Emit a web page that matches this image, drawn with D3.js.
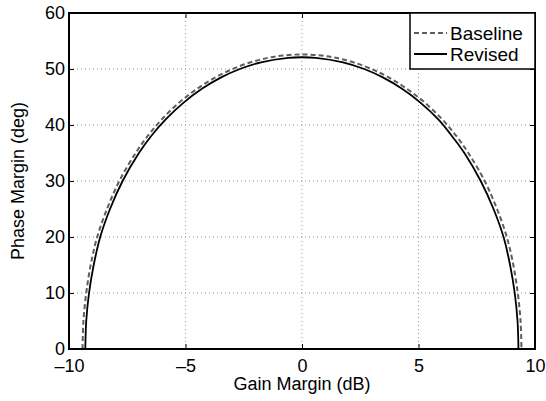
<html>
<meta charset="UTF-8">
<head>
<style>
  body { margin: 0; background: #fff; }
  text { font-family: "Liberation Sans", Arial, sans-serif; }
</style>
</head>
<script src="https://d3js.org/d3.v7.min.js"></script>
<body>
<div id="chart"></div>
<script>
  // gain margin (dB), phase margin (deg)
  var baselineGain  = [-9.42, -9.38, -9.26, -9.07, -8.79, -8.37, -7.84, -7.14, -6.63, -6.02, -5.27, -4.49, -3.72, -2.98, -2.2, -1.45, -0.84, 0,
                        0.84, 1.45, 2.2, 2.98, 3.72, 4.49, 5.27, 6.02, 6.63, 7.14, 7.84, 8.37, 8.79, 9.07, 9.26, 9.38, 9.42];
  var baselinePhase = [0, 5, 10, 15, 20, 25, 30, 35, 38, 41, 44, 46.5, 48.5, 50, 51.2, 52, 52.4, 52.6,
                        52.4, 52, 51.2, 50, 48.5, 46.5, 44, 41, 38, 35, 30, 25, 20, 15, 10, 5, 0];

  var revisedGain  = [-9.3, -9.26, -9.14, -8.94, -8.66, -8.24, -7.7, -7.0, -6.48, -5.85, -5.08, -4.28, -3.47, -2.67, -1.76, -0.59, 0,
                       0.59, 1.76, 2.67, 3.47, 4.28, 5.08, 5.85, 6.44, 6.97, 7.67, 8.22, 8.65, 8.93, 9.13, 9.25, 9.29];
  var revisedPhase = [0, 5, 10, 15, 20, 25, 30, 35, 38, 41, 44, 46.5, 48.5, 50, 51.2, 52, 52.1,
                       52, 51.2, 50, 48.5, 46.5, 44, 41, 38, 35, 30, 25, 20, 15, 10, 5, 0];

  var xTicks = [-10, -5, 0, 5, 10];
  var yTicks = [0, 10, 20, 30, 40, 50, 60];
  var seriesNames = ["Baseline", "Revised"];

  var width = 546, height = 401;
  var margin = { top: 13, right: 11, bottom: 52, left: 69 };
  var chartWidth = width - margin.left - margin.right;
  var chartHeight = height - margin.top - margin.bottom;

  var svg = d3.select("#chart").append("svg")
    .attr("width", width)
    .attr("height", height);

  var g = svg.append("g")
    .attr("transform", "translate(" + margin.left + "," + margin.top + ")");

  var x = d3.scaleLinear().domain([-10, 10]).range([0, chartWidth]);
  var y = d3.scaleLinear().domain([0, 60]).range([chartHeight, 0]);

  // dotted grid
  g.append("g").selectAll("line")
    .data(xTicks.slice(1, -1))
    .enter().append("line")
    .attr("x1", d => x(d)).attr("x2", d => x(d))
    .attr("y1", 0).attr("y2", chartHeight)
    .attr("stroke", "#999").attr("stroke-width", 1).attr("stroke-dasharray", "1,3");

  g.append("g").selectAll("line")
    .data(yTicks.slice(1, -1))
    .enter().append("line")
    .attr("x1", 0).attr("x2", chartWidth)
    .attr("y1", d => y(d)).attr("y2", d => y(d))
    .attr("stroke", "#999").attr("stroke-width", 1).attr("stroke-dasharray", "1,3");

  var line = d3.line().x(d => x(d[0])).y(d => y(d[1])).curve(d3.curveCatmullRom.alpha(0.5));

  var baseline = baselineGain.map((v, i) => [v, baselinePhase[i]]);
  var revised = revisedGain.map((v, i) => [v, revisedPhase[i]]);

  g.append("path")
    .datum(baseline)
    .attr("d", line)
    .attr("fill", "none")
    .attr("stroke", "#5e5e5e")
    .attr("stroke-width", 2)
    .attr("stroke-dasharray", "5,3");

  g.append("path")
    .datum(revised)
    .attr("d", line)
    .attr("fill", "none")
    .attr("stroke", "#000")
    .attr("stroke-width", 1.8);

  // axes with inward ticks (matlab style)
  var fmt = d => d < 0 ? "\u2013" + Math.abs(d) : String(d);

  var xAxis = d3.axisBottom(x).tickValues(xTicks).tickSize(-5).tickPadding(10).tickFormat(fmt);
  var yAxis = d3.axisLeft(y).tickValues(yTicks).tickSize(-5).tickPadding(4).tickFormat(fmt);

  g.append("g")
    .attr("transform", "translate(0," + chartHeight + ")")
    .call(xAxis)
    .call(s => s.select(".domain").remove())
    .call(s => s.selectAll("text").attr("font-size", 18).attr("fill", "#000").attr("font-family", "Liberation Sans, Arial, sans-serif"));

  g.append("g")
    .call(yAxis)
    .call(s => s.select(".domain").remove())
    .call(s => s.selectAll("text").attr("font-size", 18).attr("fill", "#000").attr("font-family", "Liberation Sans, Arial, sans-serif"));

  // top and right ticks
  g.append("g").call(d3.axisTop(x).tickValues(xTicks).tickSize(-5).tickFormat(""))
    .call(s => s.select(".domain").remove());
  g.append("g").attr("transform", "translate(" + chartWidth + ",0)")
    .call(d3.axisRight(y).tickValues(yTicks).tickSize(-5).tickFormat(""))
    .call(s => s.select(".domain").remove());

  // box
  g.append("rect")
    .attr("width", chartWidth).attr("height", chartHeight)
    .attr("fill", "none").attr("stroke", "#000").attr("stroke-width", 2);

  // axis labels
  svg.append("text")
    .attr("x", margin.left + chartWidth / 2)
    .attr("y", 390)
    .attr("text-anchor", "middle")
    .attr("font-size", 18)
    .text("Gain Margin (dB)");

  svg.append("text")
    .attr("transform", "translate(24," + (margin.top + chartHeight / 2) + ") rotate(-90)")
    .attr("text-anchor", "middle")
    .attr("font-size", 18)
    .text("Phase Margin (deg)");

  // legend
  var legend = g.append("g").attr("transform", "translate(" + (chartWidth - 125) + ",0)");
  legend.append("rect")
    .attr("width", 125).attr("height", 56)
    .attr("fill", "#fff").attr("stroke", "#000").attr("stroke-width", 1.5);

  var styles = [
    { stroke: "#5e5e5e", dash: "5,3", w: 2 },
    { stroke: "#000", dash: null, w: 1.8 }
  ];
  seriesNames.forEach((name, i) => {
    var ly = 20 + i * 21;
    legend.append("line")
      .attr("x1", 4).attr("x2", 37)
      .attr("y1", ly).attr("y2", ly)
      .attr("stroke", styles[i].stroke)
      .attr("stroke-width", styles[i].w)
      .attr("stroke-dasharray", styles[i].dash);
    legend.append("text")
      .attr("x", 40).attr("y", ly + 7)
      .attr("font-size", 19)
      .text(name);
  });
</script>
</body>
</html>
